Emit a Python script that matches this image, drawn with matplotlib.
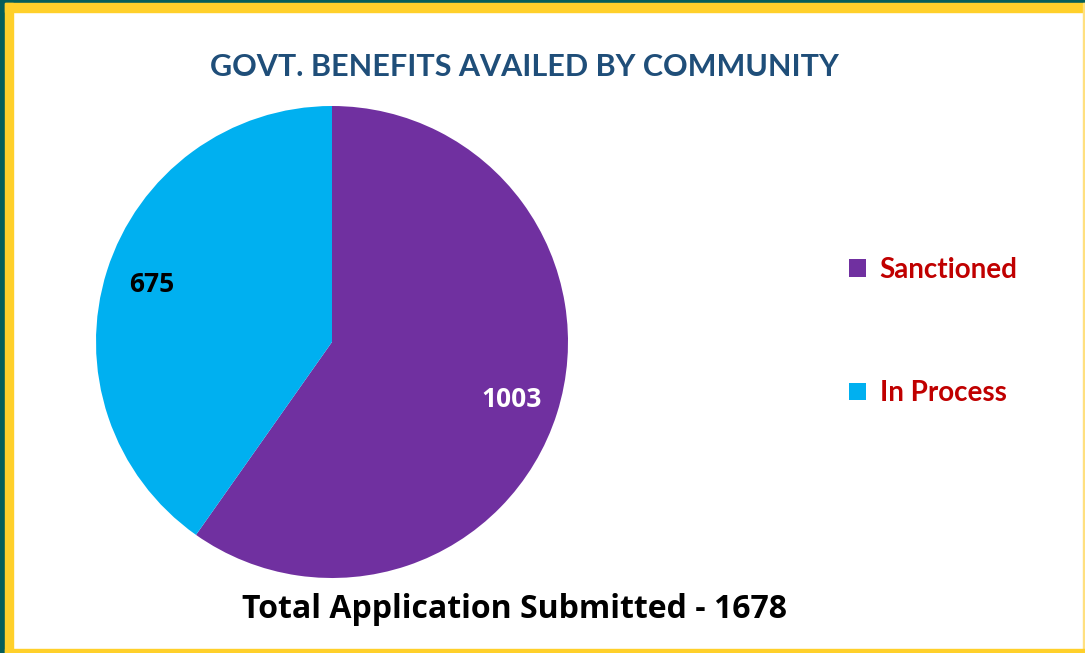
import matplotlib.pyplot as plt
from matplotlib.patches import Rectangle

labels = ['Sanctioned', 'In Process']
values = [1003, 675]
colors = ['#7030A0', '#00B0F0']
label_colors = ['white', 'black']
title = 'GOVT. BENEFITS AVAILED BY COMMUNITY'
footer = 'Total Application Submitted - 1678'

W, H = 1085, 653
fig = plt.figure(figsize=(W / 100, H / 100), dpi=100)
fig.patch.set_facecolor('white')

# frame: teal outer edge, yellow band
def px_rect(x0, y0, w, h, color):
    # pixel coords measured from top-left
    fig.patches.append(Rectangle((x0 / W, 1 - (y0 + h) / H), w / W, h / H,
                                 transform=fig.transFigure, color=color, zorder=0))

px_rect(0, 0, W, 3, '#055E5A')
px_rect(0, 0, 5, H, '#055E5A')
px_rect(5, 3, W - 5, 9, '#FFD02A')
px_rect(5, 3, 8, H - 3, '#FFD02A')
px_rect(W - 2, 3, 2, H - 3, '#FFE080')
px_rect(5, H - 4, W - 5, 4, '#FFD02A')

# pie
cx, cy, r = 332, 342, 236
ax = fig.add_axes([(cx - r) / W, 1 - (cy + r) / H, 2 * r / W, 2 * r / H])
wedges, texts, autotexts = ax.pie(values, colors=colors, startangle=90, counterclock=False,
                                  autopct=lambda p: '{:.0f}'.format(p * sum(values) / 100),
                                  pctdistance=0.8, wedgeprops=dict(linewidth=0),
                                  textprops=dict(family='Open Sans', weight='bold', size=19))
for t, c in zip(autotexts, label_colors):
    t.set_color(c)
ax.set_xlim(-1, 1)
ax.set_ylim(-1, 1)
ax.set_aspect('equal')

fig.text(524 / W, 1 - 67 / H, title, ha='center', va='center', fontsize=22,
         fontweight='bold', color='#1F4E79', family='Lato')
fig.text(515 / W, 1 - 610 / H, footer, ha='center', va='center', fontsize=23,
         fontweight='bold', color='black', family='Open Sans')

leg = fig.legend(wedges, labels, loc='upper left', bbox_to_anchor=(824 / W, 1 - 232 / H),
                 frameon=False, prop={'family': 'Lato', 'size': 20, 'weight': 'bold'},
                 handlelength=0.6, handleheight=0.6, handletextpad=0.5,
                 labelspacing=3.5)
for t in leg.get_texts():
    t.set_color('#C00000')

fig.savefig('out.png', dpi=100)
